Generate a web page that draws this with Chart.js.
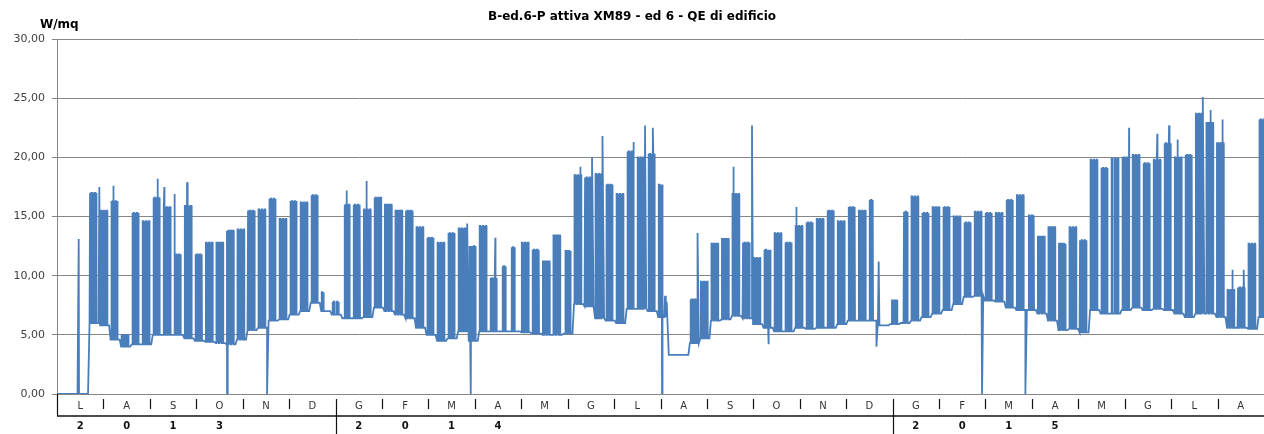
<!DOCTYPE html>
<html>
<head>
<meta charset="utf-8">
<title>B-ed.6-P attiva XM89 - ed 6 - QE di edificio</title>
<script src="https://cdn.jsdelivr.net/npm/chart.js@4.4.1/dist/chart.umd.min.js"></script>
<style>
  html, body { margin: 0; padding: 0; background: #fff; }
  #wrap { width: 1264px; height: 434px; }
</style>
</head>
<body>
<div id="wrap"><canvas id="qeChart"></canvas></div>
<script>
// Mesi (lug 2013 - ago 2015) e cifre dell'anno sotto
const months = ['L','A','S','O','N','D','G','F','M','A','M','G','L','A','S','O','N','D','G','F','M','A','M','G','L','A'];
const years = ['2','0','1','3','','', '2','0','1','4','','','','','','','','', '2','0','1','5','','','',''];

// Una voce per settimana (lun 1/7/2013 = giorno 0), valori in W/mq letti dal grafico
// picco diurno dei giorni lavorativi
const weekPeak = [
  0, 0, 0, 17.0, 15.5, 16.3, 5.0, 15.3, 14.6, 16.6,
  15.8, 11.8, 15.9, 11.8, 12.8, 12.8, 13.8, 13.9, 15.5, 15.6,
  16.5, 14.8, 16.3, 16.2, 16.8, 8.6, 7.8, 16.0, 16.0, 15.6,
  16.6, 16.0, 15.5, 15.5, 14.1, 13.2, 12.8, 13.6, 14.0, 12.5,
  14.2, 9.8, 10.8, 12.4, 12.8, 12.2, 11.2, 13.4, 12.1, 18.5,
  18.3, 18.6, 17.7, 16.9, 20.5, 20.0, 20.3, 17.7, 3.5, 3.4,
  8.0, 9.5, 12.7, 13.1, 16.9, 12.8, 11.5, 12.2, 13.6, 12.8,
  14.2, 14.5, 14.8, 15.5, 14.6, 15.8, 15.5, 16.4, 6.2, 7.9,
  15.4, 16.7, 15.3, 15.8, 15.8, 15.0, 14.5, 15.4, 15.3, 15.3,
  16.4, 16.8, 15.1, 13.3, 14.1, 12.7, 14.1, 13.0, 19.8, 19.1,
  19.9, 20.0, 20.2, 19.5, 19.8, 21.2, 20.0, 20.2, 23.7, 22.9,
  21.2, 8.8, 9.0, 12.7, 23.2
];
// livello notturno / festivo
const weekBase = [
  0, 0, 0, 6.0, 5.8, 4.6, 4.0, 4.2, 4.2, 5.0,
  5.0, 5.0, 4.7, 4.5, 4.4, 4.3, 4.2, 4.6, 5.4, 5.6,
  6.2, 6.3, 6.7, 7.0, 7.7, 7.0, 6.7, 6.4, 6.4, 6.5,
  7.3, 7.0, 6.7, 6.4, 5.6, 5.0, 4.5, 4.7, 5.3, 4.5,
  5.3, 5.3, 5.3, 5.3, 5.2, 5.1, 5.0, 5.0, 5.1, 7.6,
  7.4, 6.4, 6.2, 6.0, 7.2, 7.2, 7.0, 6.5, 3.3, 3.3,
  4.3, 4.7, 6.2, 6.3, 6.6, 6.4, 5.9, 5.6, 5.3, 5.3,
  5.6, 5.5, 5.6, 5.6, 5.9, 6.2, 6.2, 6.2, 5.8, 5.9,
  6.0, 6.2, 6.5, 6.8, 7.1, 7.6, 8.2, 8.3, 7.9, 7.8,
  7.3, 7.1, 7.1, 6.8, 6.2, 5.4, 5.5, 5.2, 7.1, 6.8,
  6.8, 7.1, 7.3, 7.1, 7.2, 7.1, 6.8, 6.5, 6.8, 6.8,
  6.5, 5.6, 5.6, 5.5, 6.5
];
// giorni lavorativi lun-ven (1 = attivo)
const weekDays = [
  '00000','00000','00000','11111','11111','11111','11111','11111','11111','11111',
  '11111','11111','11111','11111','11111','11111','11111','11111','11111','11111',
  '11111','11111','11111','11111','11111','11000','11011','01111','11111','11111',
  '11111','11111','11111','11111','11111','11111','11111','11111','11111','11111',
  '11111','11111','01110','11100','11111','11111','11111','11111','01111','11111',
  '11111','11111','11111','11111','11111','11111','11111','11100','00000','00000',
  '11111','11111','11111','11111','11111','11111','11111','11111','11111','11111',
  '11111','11111','11111','11111','11111','11111','11111','11100','00000','01111',
  '00111','11111','11111','11111','11111','11111','11111','11111','11111','11111',
  '11111','11111','01111','11111','11111','11111','11111','11111','11111','11111',
  '10111','11111','11111','11111','11111','11111','11111','11111','11111','11111',
  '11111','11111','11111','11111','11111'
];
// picchi isolati e cadute a zero: [giorno, W/mq]
const spikes = [
  [13.8, 13.1], [27.5, 17.5], [37.0, 17.6], [66.3, 18.2], [70.7, 17.5], [77.4, 16.9], [85.8, 17.9],
  [112.4, 0], [139.0, 0], [192.0, 17.2], [205.0, 18.0], [272.0, 14.4], [274.5, 0], [290.7, 13.2],
  [343.9, 15.2], [347.2, 19.2], [355.0, 20.0], [362.0, 21.8], [382.7, 21.3], [390.2, 22.7], [395.5, 22.5],
  [401.5, 0], [403.5, 8.3], [404.6, 7.8], [425.2, 13.6], [449.1, 19.2], [461.3, 22.7], [472.4, 4.2],
  [490.8, 15.8], [544.0, 4.0], [545.5, 11.2], [614.2, 0], [643.0, 0], [711.9, 22.5], [730.7, 22.0],
  [738.5, 22.7], [744.0, 21.5], [761.0, 25.1], [766.2, 24.0], [774.0, 23.2], [780.6, 10.5], [788.3, 10.5]
];

// Costruisce la serie oraria semplificata: notte al livello base, giorno lavorativo al picco
const points = [];
weekPeak.forEach((peak, w) => {
  const base = weekBase[w];
  const mask = weekDays[w];
  for (let d = 0; d < 7; d++) {
    const day = w * 7 + d;
    points.push({ x: day, y: base });
    if (d < 5 && mask[d] === '1') {
      points.push({ x: day + 0.30, y: base }, { x: day + 0.34, y: peak },
                  { x: day + 0.72, y: peak }, { x: day + 0.76, y: base });
    }
  }
});
spikes.forEach(([x, y]) => points.push({ x, y }));
points.sort((a, b) => a.x - b.x);

// Tabella delle etichette (mesi / anni) e titolo asse
const tableAxis = {
  id: 'tableAxis',
  afterDraw(chart) {
    const ctx = chart.ctx;
    const xm = chart.scales.xm;
    const area = chart.chartArea;
    const half = (xm.getPixelForValue(1) - xm.getPixelForValue(0)) / 2;
    ctx.save();
    ctx.strokeStyle = '#111';
    ctx.lineWidth = 1.5;
    ctx.beginPath();
    ctx.moveTo(area.left, xm.bottom);
    ctx.lineTo(area.right, xm.bottom);
    ctx.stroke();
    ctx.lineWidth = 1.2;
    ctx.beginPath();
    for (let i = 0; i < months.length; i++) {
      const x = Math.round(xm.getPixelForValue(i) - half) + 0.5;
      if (i === 0) {
        ctx.moveTo(x, xm.top);
        ctx.lineTo(x, xm.bottom);
      } else if (years[i] === '2') {
        // inizio di un nuovo anno: il separatore scende fino in fondo
        ctx.moveTo(x, xm.top + 5);
        ctx.lineTo(x, chart.height);
      } else {
        ctx.moveTo(x, xm.top + 5);
        ctx.lineTo(x, xm.top + 15);
      }
    }
    ctx.stroke();
    ctx.fillStyle = '#000';
    ctx.font = 'bold 12px "DejaVu Sans"';
    ctx.textBaseline = 'middle';
    ctx.textAlign = 'left';
    ctx.fillText('W/mq', 40, 25);
    ctx.restore();
  }
};

Chart.defaults.font.family = '"DejaVu Sans", Verdana, sans-serif';

new Chart(document.getElementById('qeChart'), {
  type: 'line',
  data: {
    datasets: [{
      data: points,
      borderColor: '#4a7ebb',
      borderWidth: 1.8,
      pointRadius: 0,
      fill: false,
      tension: 0
    }]
  },
  options: {
    responsive: true,
    maintainAspectRatio: false,
    animation: false,
    devicePixelRatio: 1,
    layout: { padding: 0 },
    plugins: {
      legend: { display: false },
      tooltip: { enabled: false },
      title: {
        display: true,
        text: 'B-ed.6-P attiva XM89 - ed 6 - QE di edificio',
        color: '#000',
        font: { size: 12, weight: 'bold' },
        padding: { top: 10, bottom: 14.6 }
      }
    },
    scales: {
      x: { type: 'linear', display: false, min: -0.63, max: 801.6 },
      xm: {
        type: 'category', labels: months, position: 'bottom', offset: true, weight: 1,
        grid: { display: false, drawTicks: false },
        border: { display: false },
        ticks: { padding: 6, color: '#333', font: { size: 10 }, autoSkip: false, maxRotation: 0 },
        afterFit: s => { s.height = 22; }
      },
      xy: {
        type: 'category', labels: years, position: 'bottom', offset: true, weight: 2,
        grid: { display: false, drawTicks: false },
        border: { display: false },
        ticks: { padding: 4, color: '#111', font: { size: 10, weight: 'bold' }, autoSkip: false, maxRotation: 0 },
        afterFit: s => { s.height = 18; }
      },
      y: {
        min: 0, max: 30,
        ticks: {
          stepSize: 5, padding: 7, color: '#404040', font: { size: 11 },
          callback: v => v.toFixed(2).replace('.', ',')
        },
        grid: { color: '#868686', lineWidth: 1, tickLength: 5, tickColor: '#868686' },
        border: { color: '#868686' },
        afterFit: s => { s.width = 57; }
      }
    }
  },
  plugins: [tableAxis]
});
</script>
</body>
</html>
